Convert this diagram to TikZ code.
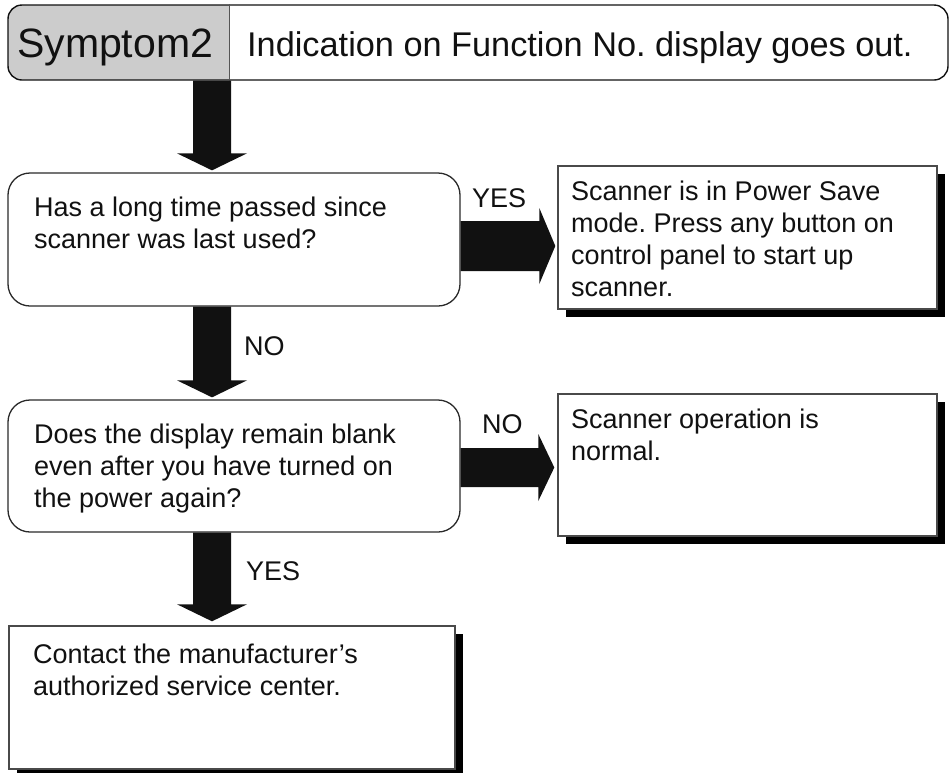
\documentclass[tikz,border=0pt]{standalone}
\usepackage{fontspec}
\setmainfont{Liberation Sans}
\usetikzlibrary{calc,shadows}
\definecolor{symgray}{HTML}{CCCCCC}
\definecolor{edge}{HTML}{2A2A2A}
\definecolor{ink}{HTML}{111111}
\frenchspacing
% vertical block arrow: #1 start (top), #2 tip (bottom)
\newcommand\downarr[2]{\fill[ink] let \p1=(#1), \p2=(#2) in
  (\x1-19pt,\y1) -- (\x1+19pt,\y1) -- (\x1+19pt,\y2+17pt) -- (\x1+35pt,\y2+17pt)
  -- (\x1,\y2) -- (\x1-35pt,\y2+17pt) -- (\x1-19pt,\y2+17pt) -- cycle;}
% horizontal block arrow: #1 start, #2 tip, #3 shaft half height, #4 head half height
\newcommand\rightarr[4]{\fill[ink] let \p1=(#1), \p2=(#2) in
  (\x1,\y1+#3) -- (\x2-16pt,\y1+#3) -- (\x2-16pt,\y1+#4) -- (\x2,\y1)
  -- (\x2-16pt,\y1-#4) -- (\x2-16pt,\y1-#3) -- (\x1,\y1-#3) -- cycle;}
\tikzset{
  hdrbox/.style={draw=ink, line width=1.4pt, rounded corners=14pt, inner sep=0,
    minimum width=940pt, minimum height=75pt},
  qbox/.style={draw=edge, line width=1.3pt, rounded corners=22pt, fill=white, inner sep=0},
  abox/.style={draw=edge!85!white, line width=1.4pt, fill=white, inner sep=0,
    drop shadow={shadow xshift=8pt, shadow yshift=-8pt, fill=black, opacity=1}},
  txt/.style={anchor=base west, inner sep=0, text=ink, font=\fontsize{27}{32}\selectfont},
}
\begin{document}
\begin{tikzpicture}[x=1pt,y=-1pt]
\useasboundingbox (0,0) rectangle (951,772);
\coordinate (col) at (212,0);
\coordinate (row1) at (0,246);
\coordinate (row2) at (0,467.5);

% header
\begin{scope}
  \clip[rounded corners=14pt] (8,5) rectangle (948,80);
  \fill[symgray] (8,5) rectangle (229,80);
\end{scope}
\node[hdrbox] (hdr) at (478,42.5) {};
\coordinate (div) at (229,0);
\draw[edge!80!white, line width=0.9pt] (hdr.north -| div) -- (hdr.south -| div);
\node[anchor=base west, inner sep=0, text=ink, font=\fontsize{41}{46}\selectfont] (sym) at (17,57) {Symptom2};
\node[anchor=base west, inner sep=0, text=ink, font=\fontsize{34.3}{40}\selectfont] (ind) at (247,56) {Indication on Function No. display goes out.};

% boxes
\node[qbox, minimum width=452pt, minimum height=133pt] (q1) at (234,239.5) {};
\node[abox, minimum width=379pt, minimum height=143pt] (a1) at (747.5,237.5) {};
\node[qbox, minimum width=452pt, minimum height=132pt] (q2) at (234,466) {};
\node[abox, minimum width=379pt, minimum height=142pt] (a2) at (747.5,465) {};
\node[abox, minimum width=446pt, minimum height=143pt] (a3) at (232,697.5) {};

% texts
\node[txt] (q1l1) at (34,216) {Has a long time passed since};
\node[txt] (q1l2) at (34,248) {scanner was last used?};
\node[txt] (a1l1) at (571,200) {Scanner is in Power Save};
\node[txt] (a1l2) at (571,232) {mode. Press any button on};
\node[txt] (a1l3) at (571,264) {control panel to start up};
\node[txt] (a1l4) at (571,296) {scanner.};
\node[txt] (q2l1) at (34,443) {Does the display remain blank};
\node[txt] (q2l2) at (34,475) {even after you have turned on};
\node[txt] (q2l3) at (34,507) {the power again?};
\node[txt] (a2l1) at (571,428) {Scanner operation is};
\node[txt] (a2l2) at (571,460) {normal.};
\node[txt] (a3l1) at (33,663) {Contact the manufacturer’s};
\node[txt] (a3l2) at (33,695) {authorized service center.};

% labels
\node[txt] (yes1) at (472,207) {YES};
\node[txt] (no1) at (244,355) {NO};
\node[txt] (no2) at (482,433) {NO};
\node[txt] (yes2) at (246,580) {YES};

% arrows
\downarr{hdr.south -| col}{$(q1.north -| col)+(0,-2)$}
\downarr{q1.south -| col}{$(q2.north -| col)+(0,-2)$}
\downarr{q2.south -| col}{$(a3.north -| col)+(0,-4)$}
\rightarr{q1.east |- row1}{$(a1.west |- row1)+(-2,0)$}{25pt}{38pt}
\rightarr{q2.east |- row2}{$(a2.west |- row2)+(-3,0)$}{19.5pt}{33.5pt}
\end{tikzpicture}
\end{document}
